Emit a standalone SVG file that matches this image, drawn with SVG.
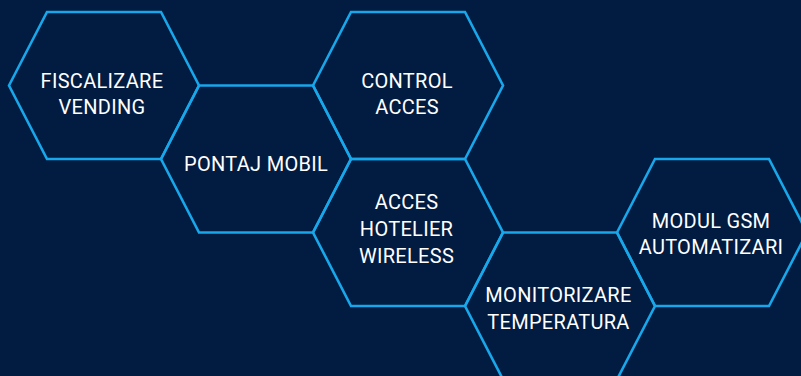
<svg xmlns="http://www.w3.org/2000/svg" width="801" height="376" viewBox="0 0 801 376">
  <defs>
    <polygon id="hex" points="-95,0 -57,-73.5 57,-73.5 95,0 57,73.5 -57,73.5"/>
    <style>
      .hex { fill: none; stroke: #17a7ea; stroke-width: 2.6; stroke-linejoin: miter; }
      .lbl { font-family: Roboto, "Liberation Sans", Arial, sans-serif; font-size: 20px; font-weight: 400; letter-spacing: 0.3px; fill: #ffffff; text-anchor: middle; }
    </style>
  </defs>
  <rect width="801" height="376" fill="#011b41"/>

  <g id="fiscalizare-vending">
    <use href="#hex" class="hex" x="104" y="85.5"/>
    <text class="lbl" x="102" y="87.7">FISCALIZARE</text>
    <text class="lbl" x="102" y="114.3">VENDING</text>
  </g>

  <g id="pontaj-mobil">
    <use href="#hex" class="hex" x="256" y="159"/>
    <text class="lbl" x="256" y="171">PONTAJ MOBIL</text>
  </g>

  <g id="control-acces">
    <use href="#hex" class="hex" x="408" y="85.5"/>
    <text class="lbl" x="407" y="87.7">CONTROL</text>
    <text class="lbl" x="407" y="114.3">ACCES</text>
  </g>

  <g id="acces-hotelier-wireless">
    <use href="#hex" class="hex" x="408" y="232.5"/>
    <text class="lbl" x="406.5" y="209">ACCES</text>
    <text class="lbl" x="406.5" y="236">HOTELIER</text>
    <text class="lbl" x="406.5" y="262.7">WIRELESS</text>
  </g>

  <g id="monitorizare-temperatura">
    <use href="#hex" class="hex" x="560" y="306"/>
    <text class="lbl" x="558.5" y="302.3">MONITORIZARE</text>
    <text class="lbl" x="558.5" y="329.3">TEMPERATURA</text>
  </g>

  <g id="modul-gsm-automatizari">
    <use href="#hex" class="hex" x="712" y="232.5"/>
    <text class="lbl" x="711" y="228.3">MODUL GSM</text>
    <text class="lbl" x="711" y="254.3">AUTOMATIZARI</text>
  </g>

  <g id="connectors"/>
</svg>
